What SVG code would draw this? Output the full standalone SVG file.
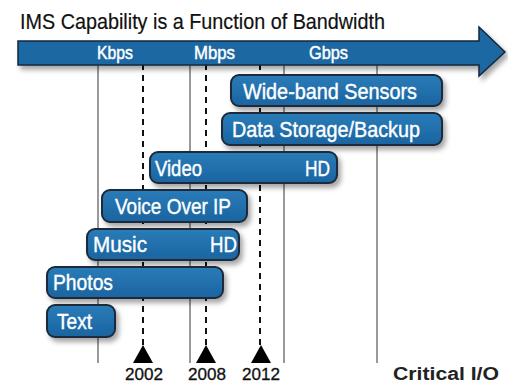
<svg xmlns="http://www.w3.org/2000/svg" width="508" height="385" viewBox="0 0 508 385">
<defs>
<filter id="sh" x="-10%" y="-30%" width="130%" height="180%">
<feDropShadow dx="3" dy="4" stdDeviation="2.5" flood-color="#000" flood-opacity="0.35"/>
</filter>
<linearGradient id="bg" x1="0" y1="0" x2="0" y2="1">
<stop offset="0" stop-color="#2a7cb8"/>
<stop offset="1" stop-color="#1a64a0"/>
</linearGradient>
</defs>
<style>
text{font-family:"Liberation Sans",Arial,sans-serif}
.title{font-size:22px;fill:#111;stroke:#111;stroke-width:0.2}
.bw{font-size:19px;fill:#fff;stroke:#fff;stroke-width:0.5}
.box rect{fill:url(#bg);stroke:#1b2a3a;stroke-width:2;filter:url(#sh)}
.box text{font-size:22px;fill:#fff;stroke:#fff;stroke-width:0.4}
.sol{stroke:#777;stroke-width:1.5;fill:none}
.dash{stroke:#111;stroke-width:2;stroke-dasharray:6,5;fill:none}
.yr{font-size:17px;fill:#111;stroke:#111;stroke-width:0.3;text-anchor:middle}
.tri{fill:#000}
</style>
<rect width="508" height="385" fill="#fff"/>
<text class="title" x="20" y="29" textLength="365" lengthAdjust="spacingAndGlyphs">IMS Capability is a Function of Bandwidth</text>
<g id="connectors">
<line class="sol" x1="98" y1="64" x2="98" y2="363"/>
<line class="sol" x1="190" y1="64" x2="190" y2="363"/>
<line class="sol" x1="284" y1="64" x2="284" y2="363"/>
<line class="sol" x1="377" y1="64" x2="377" y2="363"/>
<line class="dash" x1="143" y1="64" x2="143" y2="346"/>
<line class="dash" x1="206" y1="64" x2="206" y2="346"/>
<line class="dash" x1="260" y1="64" x2="260" y2="346"/>
</g>
<g id="bandwidth-arrow">
<path d="M18,41 H479 V27 L505,52 L479,76 V65 H18 Z" fill="#1d67a3" stroke="#14283c" stroke-width="1.5" filter="url(#sh)"/>
<text class="bw" x="97" y="59" textLength="36" lengthAdjust="spacingAndGlyphs">Kbps</text>
<text class="bw" x="194" y="59" textLength="41" lengthAdjust="spacingAndGlyphs">Mbps</text>
<text class="bw" x="309" y="59" textLength="39" lengthAdjust="spacingAndGlyphs">Gbps</text>
</g>
<g id="wideband" class="box">
<rect x="231" y="75" width="211" height="31" rx="8"/>
<text x="243" y="99" textLength="174" lengthAdjust="spacingAndGlyphs">Wide-band Sensors</text>
</g>
<g id="datastorage" class="box">
<rect x="222" y="113" width="220" height="32" rx="8"/>
<text x="232" y="137" textLength="188" lengthAdjust="spacingAndGlyphs">Data Storage/Backup</text>
</g>
<g id="video" class="box">
<rect x="150" y="152" width="187" height="31" rx="8"/>
<text x="155" y="176" textLength="47" lengthAdjust="spacingAndGlyphs">Video</text>
<text x="305" y="176" textLength="25" lengthAdjust="spacingAndGlyphs">HD</text>
</g>
<g id="voip" class="box">
<rect x="102" y="190" width="145" height="32" rx="8"/>
<text x="115" y="214" textLength="116" lengthAdjust="spacingAndGlyphs">Voice Over IP</text>
</g>
<g id="music" class="box">
<rect x="87" y="229" width="152" height="31" rx="8"/>
<text x="93" y="252" textLength="54" lengthAdjust="spacingAndGlyphs">Music</text>
<text x="210" y="252" textLength="27" lengthAdjust="spacingAndGlyphs">HD</text>
</g>
<g id="photos" class="box">
<rect x="47" y="267" width="176" height="31" rx="8"/>
<text x="53" y="290" textLength="60" lengthAdjust="spacingAndGlyphs">Photos</text>
</g>
<g id="text" class="box">
<rect x="47" y="305" width="68" height="32" rx="8"/>
<text x="57" y="329" textLength="35" lengthAdjust="spacingAndGlyphs">Text</text>
</g>
<g id="y2002">
<polygon class="tri" points="143,345 133,363 153,363"/>
<text class="yr" x="144" y="380" textLength="38" lengthAdjust="spacingAndGlyphs">2002</text>
</g>
<g id="y2008">
<polygon class="tri" points="206,345 196,363 216,363"/>
<text class="yr" x="207" y="380" textLength="38" lengthAdjust="spacingAndGlyphs">2008</text>
</g>
<g id="y2012">
<polygon class="tri" points="261,345 251,363 271,363"/>
<text class="yr" x="261" y="380" textLength="38" lengthAdjust="spacingAndGlyphs">2012</text>
</g>
<text x="393" y="380" font-size="18" font-weight="bold" fill="#222" textLength="106" lengthAdjust="spacingAndGlyphs">Critical I/O</text>
</svg>
